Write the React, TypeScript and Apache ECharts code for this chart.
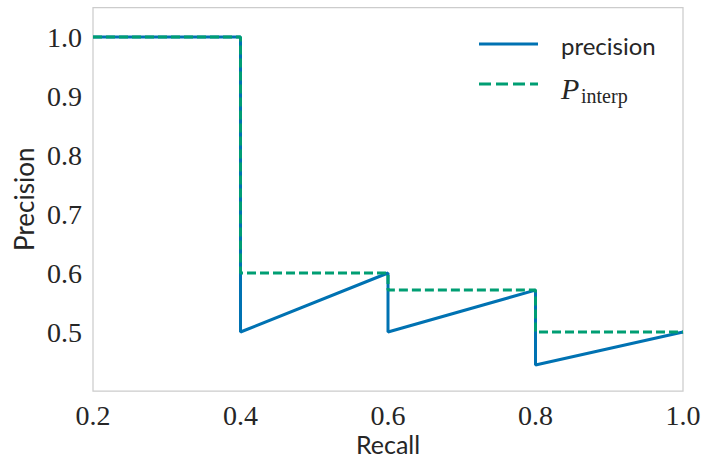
import React, { useEffect, useRef } from "react";
import * as echarts from "echarts";

const recallPrecision: [number, number][] = [
  [0.2, 1.0],
  [0.4, 1.0],
  [0.4, 0.5],
  [0.6, 0.6],
  [0.6, 0.5],
  [0.8, 0.571],
  [0.8, 0.444],
  [1.0, 0.5],
];

const recallInterp: [number, number][] = [
  [0.2, 1.0],
  [0.4, 1.0],
  [0.4, 0.6],
  [0.6, 0.6],
  [0.6, 0.571],
  [0.8, 0.571],
  [0.8, 0.5],
  [1.0, 0.5],
];

const BLUE = "#0072B2";
const GREEN = "#009E73";
const TEXT = "#262626";

export default function App() {
  const ref = useRef<HTMLDivElement>(null);
  useEffect(() => {
    if (!ref.current) return;
    const chart = echarts.init(ref.current, undefined, { renderer: "svg" });
    chart.setOption({
      animation: false,
      backgroundColor: "#ffffff",
      grid: {
        left: 93,
        right: 20,
        top: 7.5,
        bottom: 68,
        show: true,
        borderColor: "#cccccc",
        borderWidth: 1.25,
        backgroundColor: "transparent",
        outerBoundsMode: "none",
        containLabel: false,
      },
      xAxis: {
        type: "value",
        min: 0.2,
        max: 1.0,
        interval: 0.2,
        name: "Recall",
        nameLocation: "middle",
        nameGap: 40,
        nameMoveOverlap: false,
        nameTextStyle: { fontFamily: "Lato", fontSize: 25, color: TEXT, lineHeight: 26 },
        axisLine: { show: false },
        axisTick: { show: false },
        splitLine: { show: false },
        axisLabel: {
          fontFamily: "Liberation Serif",
          fontSize: 28,
          color: TEXT,
          margin: 10,
          formatter: (v: number) => v.toFixed(1),
        },
      },
      yAxis: {
        type: "value",
        min: 0.4,
        max: 1.05,
        interval: 0.1,
        name: "Precision",
        nameLocation: "middle",
        nameGap: 56,
        nameMoveOverlap: false,
        nameTextStyle: { fontFamily: "Lato", fontSize: 26, color: TEXT },
        axisLine: { show: false },
        axisTick: { show: false },
        splitLine: { show: false },
        axisLabel: {
          fontFamily: "Liberation Serif",
          fontSize: 28,
          color: TEXT,
          margin: 11,
          formatter: (v: number) => (v < 0.45 || v > 1.01 ? "" : v.toFixed(1)),
        },
      },
      series: [
        {
          type: "line",
          name: "precision",
          data: recallPrecision,
          showSymbol: false,
          symbol: "none",
          lineStyle: { color: BLUE, width: 3 },
          z: 2,
        },
        {
          type: "line",
          name: "P_interp",
          data: recallInterp,
          showSymbol: false,
          symbol: "none",
          lineStyle: { color: GREEN, width: 3, type: [9, 4] },
          z: 3,
        },
      ],
      graphic: [
        {
          type: "line",
          shape: { x1: 479, y1: 44, x2: 538, y2: 44 },
          style: { stroke: BLUE, lineWidth: 3 },
        },
        {
          type: "line",
          shape: { x1: 479, y1: 84, x2: 538, y2: 84 },
          style: { stroke: GREEN, lineWidth: 3, lineDash: [12, 5] },
        },
        {
          type: "text",
          x: 561,
          y: 45,
          style: {
            text: "precision",
            fontFamily: "Lato",
            fontSize: 24,
            fill: TEXT,
            verticalAlign: "middle",
            align: "left",
          },
        },
        {
          type: "text",
          x: 561,
          y: 88,
          style: {
            text: "P",
            fontFamily: "Liberation Serif",
            fontStyle: "italic",
            fontSize: 30,
            fill: TEXT,
            verticalAlign: "middle",
            align: "left",
          },
        },
        {
          type: "text",
          x: 581,
          y: 96,
          style: {
            text: "interp",
            fontFamily: "Liberation Serif",
            fontSize: 20,
            fill: TEXT,
            verticalAlign: "middle",
            align: "left",
          },
        },
      ],
    });
    return () => chart.dispose();
  }, []);
  return (
    <div
      ref={ref}
      style={{ position: "fixed", left: 0, top: 0, width: 703, height: 459 }}
    />
  );
}
